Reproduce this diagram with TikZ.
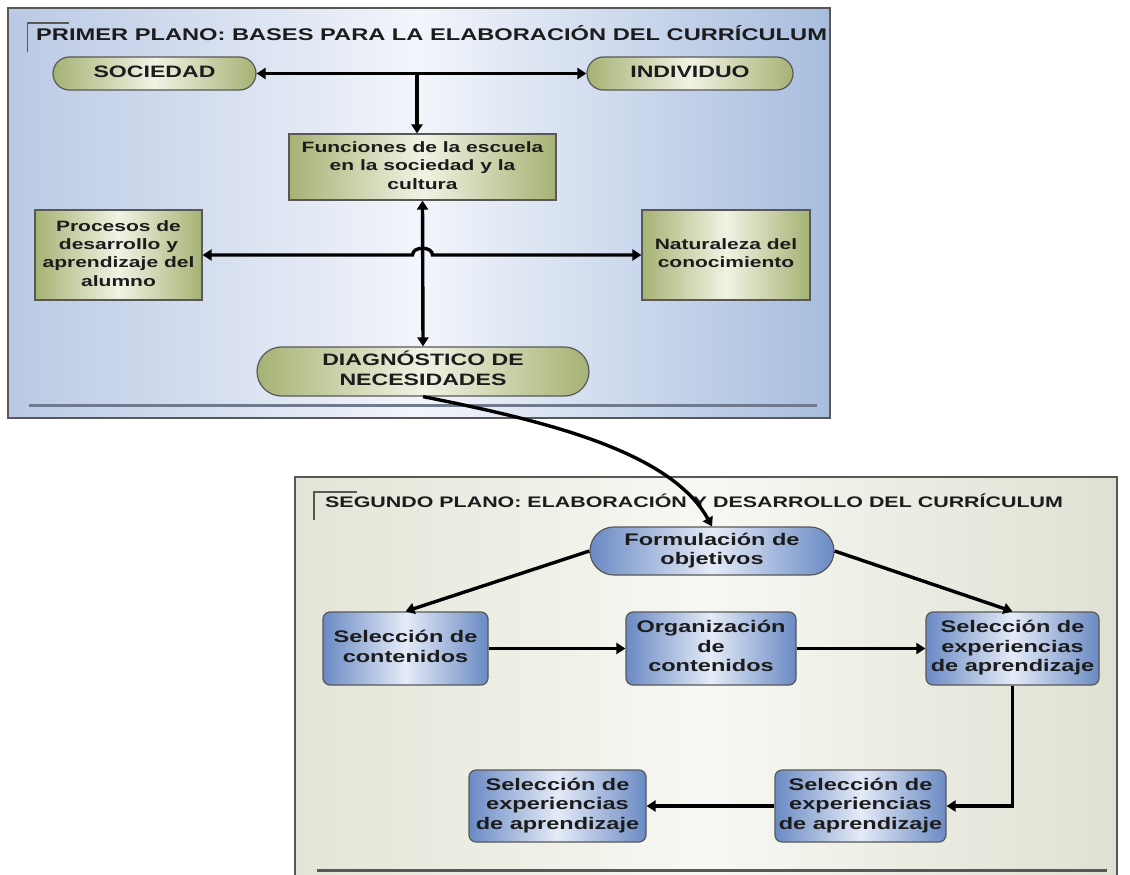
\documentclass[tikz,border=0pt]{standalone}
\usepackage{fontspec}
\setmainfont{Liberation Sans}
\usepackage{graphicx}
\usetikzlibrary{shapes.misc,arrows.meta,calc}

% colours
\definecolor{pAl}{RGB}{186,201,228}
\definecolor{pAm}{RGB}{242,245,251}
\definecolor{pAr}{RGB}{168,189,222}
\definecolor{pBl}{RGB}{226,229,214}
\definecolor{pBm}{RGB}{247,248,243}
\definecolor{pBr}{RGB}{222,225,210}
\definecolor{grnE}{RGB}{166,178,116}
\definecolor{grnM}{RGB}{241,243,228}
\definecolor{bluE}{RGB}{106,138,196}
\definecolor{bluM}{RGB}{229,235,247}
\definecolor{framec}{RGB}{88,88,88}
\definecolor{rulea}{RGB}{112,122,142}
\definecolor{ruleb}{RGB}{88,88,88}
\definecolor{ink}{RGB}{28,28,28}

% text helpers: widened bold sans, stacked lines
\newcommand{\sx}[1]{\scalebox{1.4}[1]{\begin{tabular}{@{}c@{}}#1\end{tabular}}}
\newcommand{\fsm}{\fontsize{15}{18.4}\selectfont\bfseries}
\newcommand{\fmd}{\fontsize{16.5}{20}\selectfont\bfseries}
\newcommand{\flg}{\fontsize{16.8}{19.5}\selectfont\bfseries}

\begin{document}
\begin{tikzpicture}[x=1pt,y=-1pt,
  >={Triangle[length=9pt,width=11pt]},
  link/.style={line width=3.4pt,draw=black},
  gbox/.style={rectangle,draw=framec,line width=1.2pt,inner sep=0pt,
    left color=grnE,right color=grnE,middle color=grnM,text=ink,font=\fsm},
  gpill/.style={rounded rectangle,draw=framec,line width=1.2pt,inner sep=0pt,
    left color=grnE,right color=grnE,middle color=grnM,text=ink,font=\fmd},
  bbox/.style={rectangle,rounded corners=7pt,draw=framec,line width=1.2pt,inner sep=0pt,
    left color=bluE,right color=bluE,middle color=bluM,text=ink,font=\flg},
  bpill/.style={rounded rectangle,draw=framec,line width=1.2pt,inner sep=0pt,
    left color=bluE,right color=bluE,middle color=bluM,text=ink,font=\flg},
  ttl/.style={anchor=west,inner sep=0pt,text=ink}
]
\useasboundingbox (0,0) rectangle (1130,875);
\fill[white] (0,0) rectangle (1130,875);

% ---------- first panel ----------
\draw[draw=framec,line width=1.6pt,left color=pAl,right color=pAr,middle color=pAm]
  (8,8) rectangle (830,418);
\draw[rulea,line width=3pt] (29,405) -- (817,405);
\draw[framec,line width=1.4pt] (27.5,52) -- (27.5,23) -- (69,23);
\node[ttl,font=\fontsize{16.9}{20}\selectfont\bfseries] (t1) at (36,36)
  {\sx{PRIMER PLANO: BASES PARA LA ELABORACIÓN DEL CURRÍCULUM}};

\node[gpill,minimum width=203pt,minimum height=33pt] (soc) at (154.5,73.5) {\sx{SOCIEDAD}};
\node[gpill,minimum width=206pt,minimum height=33pt] (ind) at (690,73.5) {\sx{INDIVIDUO}};
\node[gbox,minimum width=267pt,minimum height=66pt] (fun) at (422.5,167)
  {\sx{Funciones de la escuela\\en la sociedad y la\\cultura}};
\node[gbox,minimum width=167pt,minimum height=90pt] (proc) at (118.5,255)
  {\sx{Procesos de\\desarrollo y\\aprendizaje del\\alumno}};
\node[gbox,minimum width=168pt,minimum height=90pt] (nat) at (726,255)
  {\sx{Naturaleza del\\conocimiento}};
\node[gpill,minimum width=332pt,minimum height=49pt] (diag) at (423,371.5)
  {\sx{DIAGNÓSTICO DE\\NECESIDADES}};

\coordinate (hub) at (417,73.5);
\draw[link,<->] (soc.east) -- (ind.west);
\draw[link,->] (hub) -- (hub |- fun.north);
\draw[link,<->] (fun.south) -- (diag.north);
\coordinate (hopL) at ($(fun.south |- proc.east)+(-10,0)$);
\coordinate (hopR) at ($(fun.south |- proc.east)+(10,0)$);
\draw[link,<->] (proc.east) -- (hopL) .. controls +(0,-9) and +(0,-9) .. (hopR) -- (nat.west);

% ---------- second panel ----------
\draw[draw=framec,line width=1.6pt,left color=pBl,right color=pBr,middle color=pBm]
  (295,477) rectangle (1117,900);
\draw[ruleb,line width=3pt] (317,870) -- (1107,870);
\draw[framec,line width=1.4pt] (314,520) -- (314,492) -- (357,492);
\node[ttl,font=\fontsize{15.3}{18}\selectfont\bfseries] (t2) at (325,503)
  {\sx{SEGUNDO PLANO: ELABORACIÓN Y DESARROLLO DEL CURRÍCULUM}};

\node[bpill,minimum width=244pt,minimum height=48pt] (form) at (712,551)
  {\sx{Formulación de\\objetivos}};
\node[bbox,minimum width=165pt,minimum height=73pt] (selc) at (405.5,648.5)
  {\sx{Selección de\\contenidos}};
\node[bbox,minimum width=170pt,minimum height=73pt] (org) at (711,648.5)
  {\sx{Organización\\de\\contenidos}};
\node[bbox,minimum width=173pt,minimum height=73pt] (sel1) at (1012.5,648.5)
  {\sx{Selección de\\experiencias\\de aprendizaje}};
\node[bbox,minimum width=171pt,minimum height=72pt] (sel2) at (860.5,806)
  {\sx{Selección de\\experiencias\\de aprendizaje}};
\node[bbox,minimum width=177pt,minimum height=72pt] (sel3) at (557.5,806)
  {\sx{Selección de\\experiencias\\de aprendizaje}};

\draw[link,->] (form.west) -- (selc.north);
\draw[link,->] (form.east) -- (sel1.north);
\draw[link,->] (selc.east) -- (org.west);
\draw[link,->] (org.east) -- (sel1.west);
\draw[link,->] (sel1.south) |- (sel2.east);
\draw[link,->] (sel2.west) -- (sel3.east);

% link between the two panels
\draw[link,->] (diag.south) .. controls (540,420) and (670,450) .. (form.north);
\end{tikzpicture}
\end{document}
